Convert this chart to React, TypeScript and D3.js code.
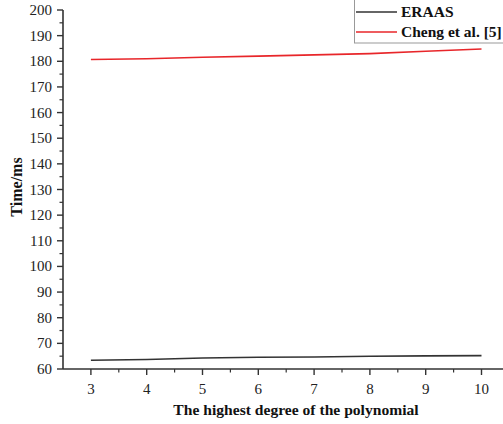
import * as React from 'react'
import { scaleLinear, line, range } from 'd3'

const degrees = [3, 4, 5, 6, 7, 8, 9, 10]
const eraas = [63.4, 63.7, 64.3, 64.6, 64.7, 65.0, 65.1, 65.2]
const cheng = [180.7, 181.0, 181.6, 182.0, 182.5, 183.0, 183.9, 184.8]
const seriesNames = ['ERAAS', 'Cheng et al. [5]']
const seriesColors = ['#333333', '#e8262a']
const xTitle = 'The highest degree of the polynomial'
const yTitle = 'Time/ms'

const W = 503
const H = 424
const serif = "'Liberation Serif', 'Times New Roman', serif"

function App() {
  const x = scaleLinear().domain([2.5, 10.5]).range([63, 509.4])
  const y = scaleLinear().domain([60, 200]).range([369, 10])
  const axisColor = '#333'

  const makeLine = line<number>()
    .x((d, i) => x(degrees[i]))
    .y((d) => y(d))

  const yMajor = range(60, 201, 10)
  const yMinor = range(65, 200, 10)
  const xMajor = degrees
  const xMinor = range(3.5, 10.6, 1)

  return (
    <svg width={W} height={H} style={{ position: 'absolute', left: 0, top: 0, background: '#fff', fontFamily: serif }}>
      {/* series */}
      {[eraas, cheng].map((s, i) => (
        <path key={i} d={makeLine(s) ?? ''} fill="none" stroke={seriesColors[i]} strokeWidth={1.6} />
      ))}

      {/* y axis */}
      <line x1={x(2.5)} x2={x(2.5)} y1={y(60)} y2={y(200)} stroke={axisColor} strokeWidth={1.6} />
      {yMajor.map((v) => (
        <g key={v}>
          <line x1={x(2.5) - 6} x2={x(2.5)} y1={y(v)} y2={y(v)} stroke={axisColor} strokeWidth={1.4} />
          <text x={52} y={y(v) + 5} textAnchor="end" style={{ fontFamily: serif, fontSize: 15 }} fill="#222">
            {v}
          </text>
        </g>
      ))}
      {yMinor.map((v) => (
        <line key={v} x1={x(2.5) - 3.5} x2={x(2.5)} y1={y(v)} y2={y(v)} stroke={axisColor} strokeWidth={1.2} />
      ))}

      {/* x axis */}
      <line x1={x(2.5)} x2={W} y1={y(60)} y2={y(60)} stroke={axisColor} strokeWidth={1.6} />
      {xMajor.map((v) => (
        <g key={v}>
          <line x1={x(v)} x2={x(v)} y1={y(60)} y2={y(60) + 6} stroke={axisColor} strokeWidth={1.4} />
          <text x={x(v)} y={394} textAnchor="middle" style={{ fontFamily: serif, fontSize: 15 }} fill="#222">
            {v}
          </text>
        </g>
      ))}
      {xMinor.map((v) => (
        <line key={v} x1={x(v)} x2={x(v)} y1={y(60)} y2={y(60) + 3.5} stroke={axisColor} strokeWidth={1.2} />
      ))}

      {/* titles */}
      <text x={296} y={415} textAnchor="middle" style={{ fontFamily: serif, fontSize: 15.6, fontWeight: 'bold' }} fill="#111">
        {xTitle}
      </text>
      <text
        transform="translate(22, 187) rotate(-90)"
        textAnchor="middle"
        style={{ fontFamily: serif, fontSize: 16, fontWeight: 'bold' }}
        fill="#111"
      >
        {yTitle}
      </text>

      {/* legend */}
      <rect x={354.5} y={-1} width={160} height={44} fill="#fff" stroke="#999" strokeWidth={1} />
      {seriesNames.map((name, i) => (
        <g key={name}>
          <line x1={356} x2={397} y1={12 + i * 20} y2={12 + i * 20} stroke={seriesColors[i]} strokeWidth={1.6} />
          <text x={401} y={17 + i * 20} style={{ fontFamily: serif, fontSize: 15.5, fontWeight: 'bold' }} fill="#111">
            {name}
          </text>
        </g>
      ))}
    </svg>
  )
}

export default App
